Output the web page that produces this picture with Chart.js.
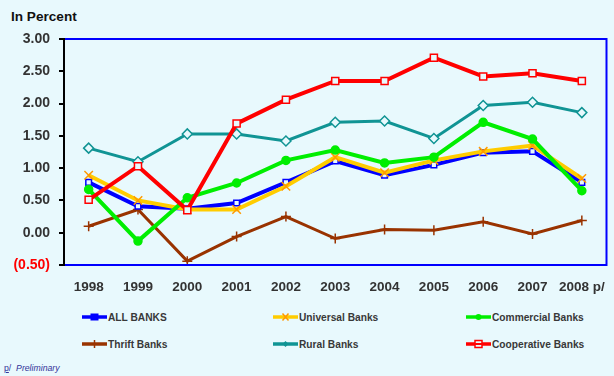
<!DOCTYPE html>
<html>
<head>
<meta charset="utf-8">
<script src="https://cdn.jsdelivr.net/npm/chart.js@4/dist/chart.umd.min.js"></script>
<style>
  html, body { margin: 0; padding: 0; }
  body { width: 614px; height: 376px; background: #e8f9fd; position: relative; overflow: hidden;
         font-family: "Liberation Sans", Arial, sans-serif; }
  #unit { position: absolute; left: 11px; top: 9px; font-size: 13.6px; font-weight: bold; color: #111; }
  #wrap { position: absolute; left: 0; top: 0; width: 614px; height: 300px; }
  .item { position: absolute; height: 14px; display: flex; align-items: center; font-size: 10.2px; font-weight: bold; color: #383838; }
  .item svg { margin-right: 1px; }
  #note { position: absolute; left: 4px; top: 363px; font-size: 8.7px; color: #333399; }
  #note u { font-style: normal; }
</style>
</head>
<body>
<div id="unit">In Percent</div>
<div id="wrap"><canvas id="chart"></canvas></div>
<div id="legend"></div>
<div id="note"><u>p</u>/ &nbsp;<i>Preliminary</i></div>
<script>
const years = ["1998", "1999", "2000", "2001", "2002", "2003", "2004", "2005", "2006", "2007", "2008 p/"];
const allBanks = [0.78, 0.41, 0.37, 0.46, 0.78, 1.11, 0.89, 1.05, 1.24, 1.26, 0.78];
const universalBanks = [0.89, 0.50, 0.36, 0.36, 0.72, 1.17, 0.93, 1.12, 1.26, 1.35, 0.84];
const commercialBanks = [0.67, -0.13, 0.54, 0.77, 1.12, 1.28, 1.08, 1.17, 1.71, 1.45, 0.65];
const thriftBanks = [0.10, 0.36, -0.44, -0.06, 0.25, -0.09, 0.05, 0.04, 0.17, -0.02, 0.19];
const ruralBanks = [1.31, 1.10, 1.53, 1.53, 1.42, 1.71, 1.73, 1.46, 1.97, 2.02, 1.86];
const coopBanks = [0.51, 1.03, 0.35, 1.69, 2.06, 2.35, 2.35, 2.71, 2.42, 2.47, 2.35];

const bg = "#e8f9fd";

const series = [
  { label: "ALL BANKS", data: allBanks, color: "#0000ff", mark: "#0000ff", style: "rect", r: 4, w: 4, fill: bg, order: 3 },
  { label: "Universal Banks", data: universalBanks, color: "#ffcc00", mark: "#ff9900", style: "crossRot", r: 6, w: 4, fill: bg, order: 2 },
  { label: "Commercial Banks", data: commercialBanks, color: "#00ee00", mark: "#00ee00", style: "circle", r: 4, w: 4, fill: "#00ee00", order: 1 },
  { label: "Thrift Banks", data: thriftBanks, color: "#993300", mark: "#993300", style: "cross", r: 5, w: 3, fill: bg, order: 5 },
  { label: "Rural Banks", data: ruralBanks, color: "#109494", mark: "#109494", style: "rectRot", r: 5, w: 3, fill: bg, order: 4 },
  { label: "Cooperative Banks", data: coopBanks, color: "#ff0000", mark: "#ff0000", style: "rect", r: 5, w: 4, fill: bg, order: 0 },
];

// frame: blue box round the plot, black value axis on the left
const frame = {
  id: "frame",
  afterDatasetsDraw(chart) {
    const { ctx, chartArea: a } = chart;
    ctx.save();
    ctx.lineWidth = 2;
    ctx.strokeStyle = "#0000ff";
    ctx.beginPath();
    ctx.moveTo(a.left, a.top);
    ctx.lineTo(a.right, a.top);
    ctx.lineTo(a.right, a.bottom);
    ctx.lineTo(a.left, a.bottom);
    ctx.stroke();
    ctx.strokeStyle = "#000";
    ctx.beginPath();
    ctx.moveTo(a.left, a.top - 1);
    ctx.lineTo(a.left, a.bottom + 1);
    ctx.stroke();
    ctx.restore();
  },
};

new Chart(document.getElementById("chart"), {
  type: "line",
  data: {
    labels: years,
    datasets: series.map((s) => ({
      label: s.label,
      data: s.data,
      borderColor: s.color,
      borderWidth: s.w,
      pointStyle: s.style,
      pointRadius: s.r,
      pointBorderColor: s.mark,
      pointBackgroundColor: s.fill,
      pointBorderWidth: 1.5,
      tension: 0,
      order: s.order,
    })),
  },
  options: {
    responsive: true,
    maintainAspectRatio: false,
    animation: false,
    layout: { padding: { top: 39, right: 2, left: 0, bottom: 0 } },
    scales: {
      x: {
        offset: true,
        grid: { display: false },
        border: { display: false },
        ticks: { color: "#333", padding: 6, maxRotation: 0, font: { size: 13.5, weight: "bold", family: "Liberation Sans" } },
        afterFit(scale) { scale.height = 35; },
      },
      y: {
        min: -0.5,
        max: 3,
        ticks: {
          stepSize: 0.5,
          padding: 9,
          font: { size: 14, weight: "bold", family: "Liberation Sans" },
          color: (c) => (c.tick.value < 0 ? "#ff0000" : "#333"),
          callback: (v) => (v < 0 ? "(" + Math.abs(v).toFixed(2) + ")" : v.toFixed(2)),
        },
        grid: { drawOnChartArea: false, tickLength: 5, color: "#000", lineWidth: 2 },
        border: { display: false },
        afterFit(scale) { scale.width = 64; },
      },
    },
    plugins: { legend: { display: false }, tooltip: { enabled: false } },
  },
  plugins: [frame],
});

// legend in three columns, two rows
const legend = document.getElementById("legend");
const cols = [82, 273, 466];
series.forEach((s, i) => {
  const item = document.createElement("div");
  item.className = "item";
  item.style.left = cols[i % 3] + "px";
  item.style.top = (i < 3 ? 310 : 337) + "px";
  let m = "";
  if (s.style === "rect" && s.fill === bg && s.r > 4) m = `<rect x="9" y="3.5" width="7" height="7" fill="${s.fill}" stroke="${s.mark}" stroke-width="1.5"/><line x1="9" y1="7" x2="16" y2="7" stroke="${s.color}" stroke-width="2"/>`;
  else if (s.style === "rect") m = `<rect x="8.5" y="3.5" width="8" height="7" fill="${s.mark}"/>`;
  if (s.style === "crossRot") m = `<path d="M9.5 3.5L15.5 10.5M15.5 3.5L9.5 10.5" stroke="${s.mark}" stroke-width="1.5"/>`;
  if (s.style === "circle") m = `<circle cx="12.5" cy="7" r="3" fill="${s.mark}"/>`;
  if (s.style === "cross") m = `<path d="M12.5 3V11" stroke="${s.mark}" stroke-width="1.5"/>`;
  if (s.style === "rectRot") m = `<path d="M12.5 4L15.5 7L12.5 10L9.5 7Z" fill="${s.mark}"/>`;
  item.innerHTML = `<svg width="25" height="14"><line x1="0" y1="7" x2="25" y2="7" stroke="${s.color}" stroke-width="3.5"/>${m}</svg>${s.label}`;
  legend.appendChild(item);
});
</script>
</body>
</html>
